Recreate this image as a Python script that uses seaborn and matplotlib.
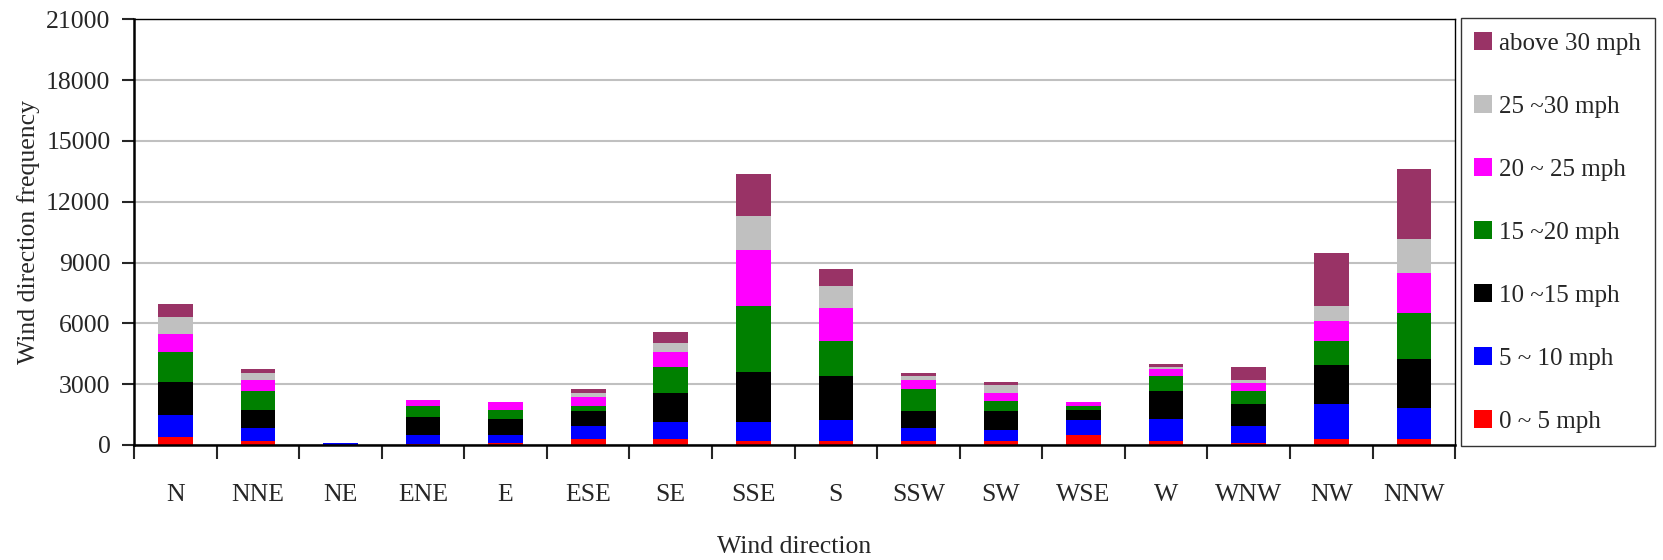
import numpy as np
import pandas as pd
import matplotlib
matplotlib.use("Agg")
import matplotlib.pyplot as plt
from matplotlib.patches import Patch
import seaborn as sns

# 风向
directions = ["N", "NNE", "NE", "ENE", "E", "ESE", "SE", "SSE",
              "S", "SSW", "SW", "WSE", "W", "WNW", "NW", "NNW"]

# 风速区间 (top of the stack first)
speed_bins = ["above 30 mph", "25 ~30 mph", "20 ~ 25 mph", "15 ~20 mph",
              "10 ~15 mph", "5 ~ 10 mph", "0 ~ 5 mph"]
bin_colors = ["#993366", "#C0C0C0", "#FF00FF", "#008000",
              "#000000", "#0000FF", "#FF0000"]

# frequency per direction for each speed bin
above_30 = [660, 180, 0, 0, 0, 195, 510, 2040, 820, 180, 165, 0, 180, 640, 2630, 3455]
mph_25_30 = [805, 360, 0, 0, 0, 165, 445, 1695, 1085, 165, 380, 0, 80, 165, 725, 1660]
mph_20_25 = [890, 545, 0, 295, 380, 460, 755, 2745, 1645, 460, 395, 180, 360, 395, 1005, 1990]
mph_15_20 = [1480, 920, 0, 540, 445, 265, 1280, 3290, 1725, 1100, 510, 195, 740, 605, 1185, 2270]
mph_10_15 = [1640, 890, 0, 905, 820, 740, 1445, 2465, 2185, 820, 920, 525, 1360, 1100, 1905, 2385]
mph_5_10 = [1070, 655, 100, 450, 375, 625, 820, 920, 1020, 640, 540, 720, 1100, 835, 1745, 1545]
mph_0_5 = [410, 200, 10, 30, 100, 295, 295, 195, 195, 195, 195, 490, 195, 100, 295, 295]

y_ticks = [0, 3000, 6000, 9000, 12000, 15000, 18000, 21000]


def main():
    series = [above_30, mph_25_30, mph_20_25, mph_15_20, mph_10_15, mph_5_10, mph_0_5]
    rows = []
    for i, d in enumerate(directions):
        for name, vals in zip(speed_bins, series):
            rows.append({"direction": d, "speed": name, "count": vals[i]})
    df = pd.DataFrame(rows)

    sns.set_style("white")
    plt.rcParams["font.family"] = ["Liberation Serif", "DejaVu Serif"]
    fs = 18.5

    fig = plt.figure(figsize=(16.63, 5.6), dpi=100)
    ax = fig.add_axes([0.0806, 0.2054, 0.875 - 0.0806, 0.9655 - 0.2054])

    sns.histplot(data=df, x="direction", weights="count", hue="speed",
                 hue_order=speed_bins, palette=bin_colors, multiple="stack",
                 discrete=True, shrink=0.42, alpha=1, linewidth=0,
                 legend=False, ax=ax)

    ax.set_xlim(-0.5, len(directions) - 0.5)
    ax.set_ylim(0, 21000)
    ax.set_yticks(y_ticks)
    ax.set_yticklabels([str(v) for v in y_ticks], fontsize=fs)
    ax.tick_params(axis="y", direction="out", length=9, width=1.5, pad=8, left=True)

    # category ticks between bars, labels at the centres
    ax.set_xticks(np.arange(len(directions) + 1) - 0.5)
    ax.set_xticklabels([])
    ax.set_xticks(np.arange(len(directions)), minor=True)
    ax.set_xticklabels(directions, minor=True, fontsize=fs)
    ax.tick_params(axis="x", which="major", direction="out", length=10, width=1.5, bottom=True)
    ax.tick_params(axis="x", which="minor", length=0, pad=28)

    ax.yaxis.grid(True, color="#C0C0C0", linewidth=1.5)
    ax.xaxis.grid(False)
    ax.set_axisbelow(True)
    for side in ["left", "bottom"]:
        ax.spines[side].set_color("black")
        ax.spines[side].set_linewidth(1.8)
    for side in ["top", "right"]:
        ax.spines[side].set_color("black")
        ax.spines[side].set_linewidth(1.0)

    ax.set_xlabel("Wind direction", fontsize=fs, labelpad=22)
    ax.set_ylabel("Wind direction frequency", fontsize=fs, labelpad=4)

    handles = [Patch(facecolor=c, edgecolor="none") for c in bin_colors]
    leg = fig.legend(handles, speed_bins, loc="upper left",
                     bbox_to_anchor=(0.8783, 0.9673), borderaxespad=0,
                     fontsize=18, frameon=True, fancybox=False,
                     edgecolor="black", handlelength=0.7, handleheight=0.7,
                     handletextpad=0.3, labelspacing=1.62, borderpad=0.55)
    leg.get_frame().set_linewidth(1.0)

    fig.savefig("out.png", dpi=100)


if __name__ == "__main__":
    main()
